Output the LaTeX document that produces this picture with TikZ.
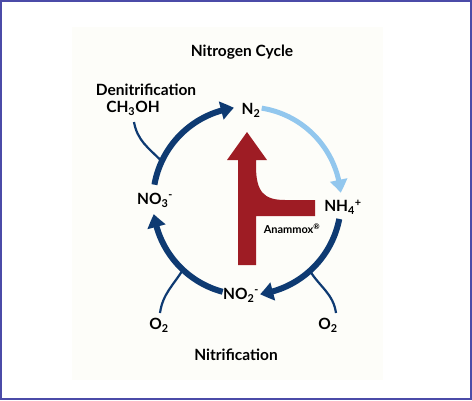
\documentclass[tikz,border=0pt]{standalone}
\usepackage{fontspec}
\setmainfont{Lato}[BoldFont={Lato Bold}]
\usetikzlibrary{arrows.meta,bending,calc}
\definecolor{framecol}{HTML}{4B4BA8}
\definecolor{darkblue}{HTML}{0E3A72}
\definecolor{lightblue}{HTML}{92C7EE}
\definecolor{anared}{HTML}{9E1C24}
\definecolor{paper}{HTML}{FDFDF9}
\begin{document}
\begin{tikzpicture}[x=1pt,y=-1pt,
  lbl/.style={font=\bfseries\fontsize{15.5}{17}\selectfont, inner sep=0pt},
  cyc/.style={line width=6pt, darkblue, -{Triangle[length=13pt,width=18pt,bend]}},
  cycl/.style={line width=5pt, lightblue, -{Triangle[length=13pt,width=17pt,bend]}},
  branch/.style={line width=2.2pt, darkblue}]
\useasboundingbox (0,0) rectangle (472,400);
\fill[white] (0,0) rectangle (472,400);
\fill[paper] (72,27) rectangle (383,380);
\draw[framecol, line width=1.6pt] (0.8,0.8) rectangle (471.2,399.2);

\coordinate (C) at (247,201);

% red anammox arrow
\fill[anared] (238,265) -- (238,160) -- (227,160) -- (247,132) -- (267,160) -- (256,160)
  -- (256,166) .. controls (256,192) and (264,200) .. (285,200) -- (315,200) -- (315,216)
  -- (256,216) -- (256,265) -- cycle;

% cycle arcs
\coordinate (a1s) at ($(C)+(-170:94)$);
\draw[cyc] (a1s) arc[start angle=-170, end angle=-98, radius=94];
\coordinate (a2s) at ($(C)+(-81:94)$);
\draw[cycl] (a2s) arc[start angle=-81, end angle=-5, radius=94];
\coordinate (a3s) at ($(C)+(11:94)$);
\draw[cyc] (a3s) arc[start angle=11, end angle=82, radius=94];
\coordinate (a4s) at ($(C)+(105:94)$);
\draw[cyc] (a4s) arc[start angle=105, end angle=172, radius=94];

% branches
\coordinate (b1s) at (134,122);
\coordinate (b1e) at ($(C)+(-155:94)$);
\draw[branch] (b1s) to[out=-80, in=135] (b1e);
\coordinate (b2s) at (160,313);
\coordinate (b2e) at ($(C)+(133:94)$);
\draw[branch] (b2s) to[out=82, in=238] (b2e);
\coordinate (b3s) at (336,313);
\coordinate (b3e) at ($(C)+(48:94)$);
\draw[branch] (b3s) to[out=98, in=-58] (b3e);

% labels
\node[lbl] (title) at (242,52) {Nitrogen Cycle};
\node[lbl] (denit) at (146,90) {Denitrification};
\node[lbl] (meoh) at (133,108) {CH\textsubscript{3}OH};
\node[lbl] (n2) at (251,110) {N\textsubscript{2}};
\node[lbl] (nh4) at (343,207) {NH\textsubscript{4}\textsuperscript{+}};
\node[lbl] (no3) at (155,200) {NO\textsubscript{3}\textsuperscript{-}};
\node[lbl] (no2) at (241,295) {NO\textsubscript{2}\textsuperscript{-}};
\node[lbl] (o2l) at (159,325) {O\textsubscript{2}};
\node[lbl] (o2r) at (328,325) {O\textsubscript{2}};
\node[lbl] (nitr) at (236,355) {Nitrification};
\node[font=\bfseries\fontsize{11}{12}\selectfont, inner sep=0pt] (ana) at (292,229) {Anammox\textsuperscript{\textregistered}};
\end{tikzpicture}
\end{document}
